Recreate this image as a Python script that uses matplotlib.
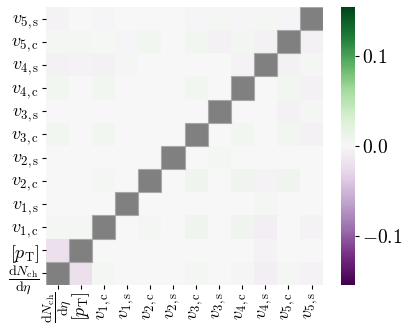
import matplotlib
matplotlib.use('Agg')
import matplotlib.pyplot as plt
from matplotlib.patches import Rectangle
import numpy as np

plt.rcParams['mathtext.fontset'] = 'cm'
plt.rcParams['font.family'] = 'serif'
plt.rcParams['font.serif'] = ['cmr10', 'DejaVu Serif']

labels = [r'$\dfrac{\mathrm{d}N_\mathrm{ch}}{\mathrm{d}\eta}$', r'$[p_\mathrm{T}]$',
          r'$v_{1,\mathrm{c}}$', r'$v_{1,\mathrm{s}}$', r'$v_{2,\mathrm{c}}$', r'$v_{2,\mathrm{s}}$',
          r'$v_{3,\mathrm{c}}$', r'$v_{3,\mathrm{s}}$', r'$v_{4,\mathrm{c}}$', r'$v_{4,\mathrm{s}}$',
          r'$v_{5,\mathrm{c}}$', r'$v_{5,\mathrm{s}}$']

# rows from bottom (dN/deta) to top (v5,s); diagonal is masked out
n = np.nan
corr = [
    [n, -0.020, 0.004, 0.0, 0.0, 0.0, 0.004, 0.0, 0.004, -0.008, 0.004, -0.004],
    [-0.020, n, 0.0, 0.0, 0.0, 0.0, 0.0, 0.0, 0.0, -0.004, 0.0, 0.0],
    [0.004, 0.004, n, 0.0, 0.004, 0.0, 0.008, 0.0, 0.008, -0.008, 0.0, -0.004],
    [0.0, 0.0, 0.0, n, 0.0, 0.0, 0.0, 0.0, 0.0, 0.004, 0.0, 0.0],
    [0.0, 0.0, 0.004, 0.0, n, 0.0, 0.008, 0.0, 0.008, -0.004, 0.008, 0.0],
    [0.0, 0.0, 0.0, 0.0, 0.0, n, 0.0, 0.004, 0.0, 0.0, 0.0, 0.0],
    [0.005, 0.0, 0.006, 0.0, 0.0, 0.0, n, 0.0, 0.006, 0.0, 0.006, -0.006],
    [0.0, 0.0, 0.0, 0.0, 0.0, 0.0, 0.0, n, 0.0, 0.0, -0.006, 0.003],
    [0.005, 0.0, 0.006, 0.0, 0.0, 0.0, 0.006, 0.0, n, 0.0, 0.006, -0.006],
    [-0.006, -0.004, -0.006, 0.003, 0.0, 0.0, 0.0, 0.0, -0.004, n, -0.006, 0.003],
    [0.003, 0.003, 0.002, -0.003, 0.006, 0.0, 0.006, -0.006, 0.006, -0.006, n, -0.006],
    [-0.004, 0.0, -0.003, 0.0, 0.0, 0.0, -0.003, 0.003, -0.003, 0.003, -0.003, n],
]

data = np.array(corr)
masked = np.ma.masked_invalid(data)

fig = plt.figure(figsize=(4.11, 3.31), dpi=100)
ax = fig.add_axes([0.112, 0.139, 0.674, 0.840])
cax = fig.add_axes([0.830, 0.139, 0.034, 0.840])

mesh = ax.pcolormesh(masked, cmap='PRGn', vmin=-0.155, vmax=0.155)

# gray cells where the matrix is masked (the diagonal)
rows, cols = np.where(np.isnan(data))
for r, c in zip(rows, cols):
    ax.add_patch(Rectangle((c, r), 1, 1, facecolor='#808080', edgecolor='#a8a8a8', linewidth=0.8))

ax.set_xlim(0, 12)
ax.set_ylim(0, 12)
ticks = np.arange(len(labels)) + 0.5
ax.set_xticks(ticks)
ax.set_xticklabels(labels, rotation=90, fontsize=13)
ax.set_yticks(ticks)
ax.set_yticklabels(labels, fontsize=13)
ax.get_xticklabels()[0].set_fontsize(10)
ax.get_yticklabels()[0].set_fontsize(10)
ax.tick_params(length=3, width=0.8, pad=2)
for s in ax.spines.values():
    s.set_visible(False)

cb = fig.colorbar(mesh, cax=cax)
cb.outline.set_visible(False)
cb.set_ticks([-0.1, 0.0, 0.1])
cb.set_ticklabels([r'$-0.1$', r'$0.0$', r'$0.1$'])
cax.tick_params(labelsize=14, length=3, width=0.8, pad=2)

plt.savefig('out.png', dpi=100)
plt.close()
